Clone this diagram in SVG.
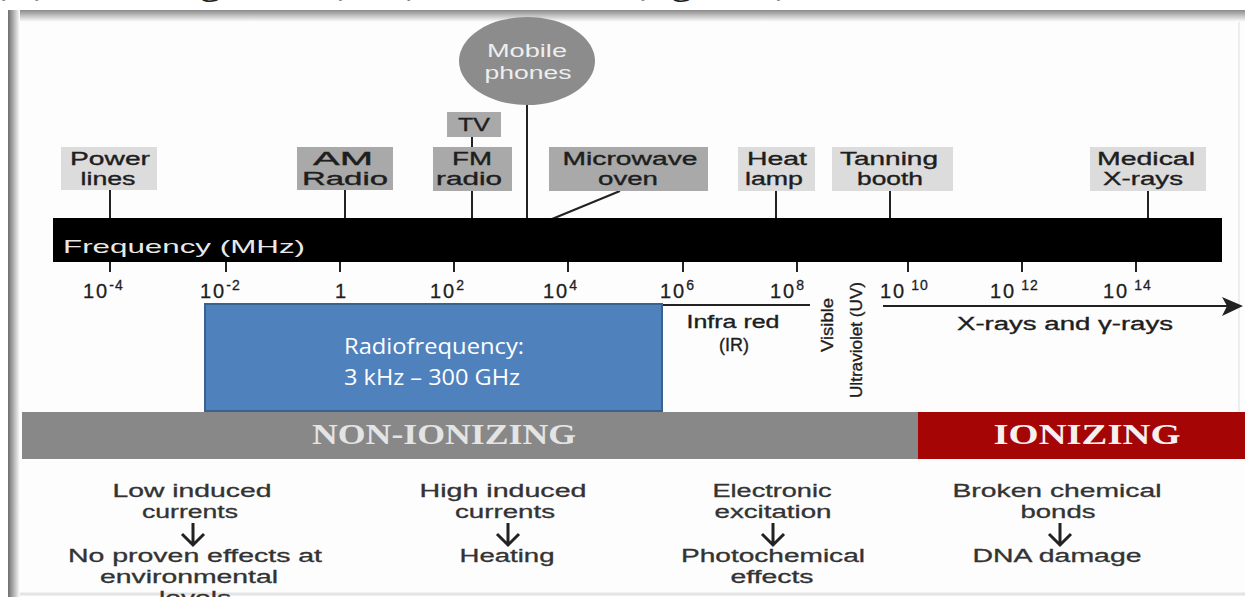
<svg xmlns="http://www.w3.org/2000/svg" width="1245" height="597" viewBox="0 0 1245 597">
<style>
.lbl{font-family:"Liberation Sans",Arial,sans-serif;font-size:18px;fill:#1e1e1e;stroke:#1e1e1e;stroke-width:0.35px;text-anchor:middle}
.tick{font-family:"Liberation Sans",Arial,sans-serif;font-size:20px;fill:#1e1e1e;stroke:#1e1e1e;stroke-width:0.3px;letter-spacing:2px}
.sup{font-size:14px;letter-spacing:1px}
.eff{font-family:"Liberation Sans",Arial,sans-serif;font-size:18px;fill:#333;stroke:#333;stroke-width:0.3px;text-anchor:middle}
.ln{stroke:#222;stroke-width:2;fill:none}
.arr{stroke:#222;stroke-width:3;fill:none}
.light{fill:#dcdcdc}
.dark{fill:#a9a9a9}
.rf{font-family:"Open Sans","Noto Sans",sans-serif;font-size:22px;fill:#fff;text-anchor:middle}
.band{font-family:"Liberation Serif","Times New Roman",serif;font-weight:bold;font-size:30px;text-anchor:middle}
</style>
<defs>
<linearGradient id="gTop" x1="0" y1="0" x2="0" y2="1">
<stop offset="0" stop-color="#8a8a8a"/><stop offset="1" stop-color="#ffffff"/>
</linearGradient>
<linearGradient id="gLeft" x1="0" y1="0" x2="1" y2="0">
<stop offset="0" stop-color="#6e6e6e"/><stop offset="1" stop-color="#ffffff"/>
</linearGradient>
</defs>
<rect x="0" y="0" width="1245" height="597" fill="#fff"/>
<text x="-4" y="-4" font-family="'Open Sans','Noto Sans',sans-serif" font-size="26" fill="#222" textLength="790" lengthAdjust="spacingAndGlyphs">(IF) to Sub Gigahertz (SHF), as shown in (Figure 3)</text>
<!-- frame -->
<rect x="8" y="10" width="1237" height="12" fill="url(#gTop)"/>
<rect x="8" y="10" width="12" height="587" fill="url(#gLeft)"/>
<rect x="20" y="22" width="1225" height="575" fill="#fdfdfd"/>
<line x1="20" y1="594" x2="1245" y2="594" stroke="#e4e4e4" stroke-width="3"/>
<line x1="1239" y1="22" x2="1239" y2="412" stroke="#eeeeee" stroke-width="2"/>

<!-- connectors -->
<g id="connectors" class="ln">
<line x1="110" y1="190" x2="110" y2="218"/>
<line x1="345" y1="190" x2="345" y2="218"/>
<line x1="472" y1="137" x2="472" y2="147"/>
<line x1="472" y1="191" x2="472" y2="218"/>
<line x1="527" y1="105" x2="527" y2="218"/>
<line x1="620" y1="191" x2="552" y2="219"/>
<line x1="776" y1="191" x2="776" y2="218"/>
<line x1="890" y1="191" x2="890" y2="218"/>
<line x1="1148" y1="191" x2="1148" y2="218"/>
<line x1="110" y1="262" x2="110" y2="272"/>
<line x1="226" y1="262" x2="226" y2="272"/>
<line x1="340" y1="262" x2="340" y2="272"/>
<line x1="454" y1="262" x2="454" y2="272"/>
<line x1="568" y1="262" x2="568" y2="272"/>
<line x1="683" y1="262" x2="683" y2="272"/>
<line x1="797" y1="262" x2="797" y2="272"/>
<line x1="908" y1="262" x2="908" y2="272"/>
<line x1="1022" y1="262" x2="1022" y2="272"/>
<line x1="1136" y1="262" x2="1136" y2="272"/>
<line x1="663" y1="305" x2="810" y2="305"/>
<line x1="883" y1="306" x2="1236" y2="306"/>
<polygon points="1243,306 1222,297 1227,306 1222,316" fill="#222" stroke="none"/>
</g>

<!-- source nodes -->
<g id="mobile"><ellipse cx="527" cy="61" rx="68" ry="44" fill="#8c8c8c"/>
<text class="lbl" x="527" y="57" style="fill:#eeeeee;stroke:none" textLength="80" lengthAdjust="spacingAndGlyphs">Mobile</text>
<text class="lbl" x="528" y="79" style="fill:#eeeeee;stroke:none" textLength="87" lengthAdjust="spacingAndGlyphs">phones</text></g>
<g id="power"><rect class="light" x="61" y="147" width="96" height="43"/>
<text class="lbl" x="110" y="165" textLength="80" lengthAdjust="spacingAndGlyphs">Power</text>
<text class="lbl" x="108" y="185" textLength="55" lengthAdjust="spacingAndGlyphs">lines</text></g>
<g id="am"><rect class="dark" x="297" y="147" width="96" height="43"/>
<text class="lbl" x="343" y="165" textLength="60" lengthAdjust="spacingAndGlyphs">AM</text>
<text class="lbl" x="345" y="185" textLength="86" lengthAdjust="spacingAndGlyphs">Radio</text></g>
<g id="tv"><rect class="dark" x="447" y="112" width="54" height="25"/>
<text class="lbl" x="474" y="131" textLength="32" lengthAdjust="spacingAndGlyphs">TV</text></g>
<g id="fm"><rect class="dark" x="433" y="147" width="79" height="44"/>
<text class="lbl" x="472" y="165" textLength="40" lengthAdjust="spacingAndGlyphs">FM</text>
<text class="lbl" x="469" y="185" textLength="66" lengthAdjust="spacingAndGlyphs">radio</text></g>
<g id="microwave"><rect class="dark" x="549" y="147" width="159" height="44"/>
<text class="lbl" x="630" y="165" textLength="135" lengthAdjust="spacingAndGlyphs">Microwave</text>
<text class="lbl" x="628" y="185" textLength="60" lengthAdjust="spacingAndGlyphs">oven</text></g>
<g id="heat"><rect class="light" x="738" y="147" width="77" height="44"/>
<text class="lbl" x="777" y="165" textLength="60" lengthAdjust="spacingAndGlyphs">Heat</text>
<text class="lbl" x="774" y="185" textLength="58" lengthAdjust="spacingAndGlyphs">lamp</text></g>
<g id="tanning"><rect class="light" x="832" y="147" width="121" height="44"/>
<text class="lbl" x="889" y="165" textLength="98" lengthAdjust="spacingAndGlyphs">Tanning</text>
<text class="lbl" x="890" y="185" textLength="66" lengthAdjust="spacingAndGlyphs">booth</text></g>
<g id="medical"><rect class="light" x="1090" y="147" width="116" height="44"/>
<text class="lbl" x="1146" y="165" textLength="98" lengthAdjust="spacingAndGlyphs">Medical</text>
<text class="lbl" x="1143" y="185" textLength="80" lengthAdjust="spacingAndGlyphs">X-rays</text></g>

<!-- frequency bar -->
<g id="freqbar"><rect x="53" y="218" width="1169" height="44" fill="#000"/>
<text x="63" y="253" font-family="'Liberation Sans',Arial,sans-serif" font-size="19" fill="#e8e8e8" textLength="242" lengthAdjust="spacingAndGlyphs">Frequency (MHz)</text></g>

<g id="ticklabels">
<text class="tick" x="83" y="298">10<tspan class="sup" dy="-8">-4</tspan></text>
<text class="tick" x="200" y="298">10<tspan class="sup" dy="-8">-2</tspan></text>
<text class="tick" x="335" y="298">1</text>
<text class="tick" x="430" y="298">10<tspan class="sup" dy="-8">2</tspan></text>
<text class="tick" x="543" y="298">10<tspan class="sup" dy="-8">4</tspan></text>
<text class="tick" x="660" y="298">10<tspan class="sup" dy="-8">6</tspan></text>
<text class="tick" x="770" y="298">10<tspan class="sup" dy="-8">8</tspan></text>
<text class="tick" x="880" y="298">10<tspan class="sup" dy="-8"> 10</tspan></text>
<text class="tick" x="990" y="298">10<tspan class="sup" dy="-8"> 12</tspan></text>
<text class="tick" x="1103" y="298">10<tspan class="sup" dy="-8"> 14</tspan></text>
</g>

<g id="ir"><text class="lbl" x="733" y="328" textLength="93" lengthAdjust="spacingAndGlyphs">Infra red</text>
<text class="lbl" x="734" y="351">(IR)</text></g>
<g id="visible"><text class="lbl" transform="translate(833,325) rotate(-90)" style="font-size:17px" textLength="54" lengthAdjust="spacingAndGlyphs">Visible</text></g>
<g id="uv"><text class="lbl" transform="translate(862,340) rotate(-90)" style="font-size:16px" textLength="116" lengthAdjust="spacingAndGlyphs">Ultraviolet (UV)</text></g>
<g id="xrays"><text class="lbl" x="1065" y="330" textLength="216" lengthAdjust="spacingAndGlyphs">X-rays and γ-rays</text></g>

<g id="radiofrequency"><rect x="205" y="304" width="457" height="107" fill="#4f81bd" stroke="#3a6190" stroke-width="2"/>
<text class="rf" x="434" y="354" textLength="180" lengthAdjust="spacingAndGlyphs">Radiofrequency:</text>
<text class="rf" x="432" y="385" textLength="176" lengthAdjust="spacingAndGlyphs">3 kHz – 300 GHz</text></g>

<g id="nonionizing"><rect x="22" y="412" width="896" height="47" fill="#888888"/>
<text class="band" x="444" y="444" fill="#e4e4e4" textLength="264" lengthAdjust="spacingAndGlyphs">NON-IONIZING</text></g>
<g id="ionizing"><rect x="918" y="412" width="327" height="47" fill="#a50505"/>
<text class="band" x="1087" y="444" fill="#f6f0f0" textLength="187" lengthAdjust="spacingAndGlyphs">IONIZING</text></g>

<g id="effect-low">
<text class="eff" x="192" y="497" textLength="159" lengthAdjust="spacingAndGlyphs">Low induced</text>
<text class="eff" x="190" y="518" textLength="96" lengthAdjust="spacingAndGlyphs">currents</text>
<path class="arr" d="M193,523 V544 M182,534 L193,545 L204,534"/>
<text class="eff" x="195" y="562" textLength="254" lengthAdjust="spacingAndGlyphs">No proven effects at</text>
<text class="eff" x="189" y="583" textLength="178" lengthAdjust="spacingAndGlyphs">environmental</text>
<text class="eff" x="195" y="604" textLength="72" lengthAdjust="spacingAndGlyphs">levels</text>
</g>
<g id="effect-high">
<text class="eff" x="503" y="497" textLength="167" lengthAdjust="spacingAndGlyphs">High induced</text>
<text class="eff" x="505" y="518" textLength="100" lengthAdjust="spacingAndGlyphs">currents</text>
<path class="arr" d="M508,523 V544 M497,534 L508,545 L519,534"/>
<text class="eff" x="507" y="562" textLength="95" lengthAdjust="spacingAndGlyphs">Heating</text>
</g>
<g id="effect-electronic">
<text class="eff" x="772" y="497" textLength="119" lengthAdjust="spacingAndGlyphs">Electronic</text>
<text class="eff" x="773" y="518" textLength="117" lengthAdjust="spacingAndGlyphs">excitation</text>
<path class="arr" d="M773,523 V544 M762,534 L773,545 L784,534"/>
<text class="eff" x="773" y="562" textLength="184" lengthAdjust="spacingAndGlyphs">Photochemical</text>
<text class="eff" x="772" y="583" textLength="83" lengthAdjust="spacingAndGlyphs">effects</text>
</g>
<g id="effect-broken">
<text class="eff" x="1057" y="497" textLength="209" lengthAdjust="spacingAndGlyphs">Broken chemical</text>
<text class="eff" x="1058" y="518" textLength="75" lengthAdjust="spacingAndGlyphs">bonds</text>
<path class="arr" d="M1060,523 V544 M1049,534 L1060,545 L1071,534"/>
<text class="eff" x="1057" y="562" textLength="169" lengthAdjust="spacingAndGlyphs">DNA damage</text>
</g>
</svg>
